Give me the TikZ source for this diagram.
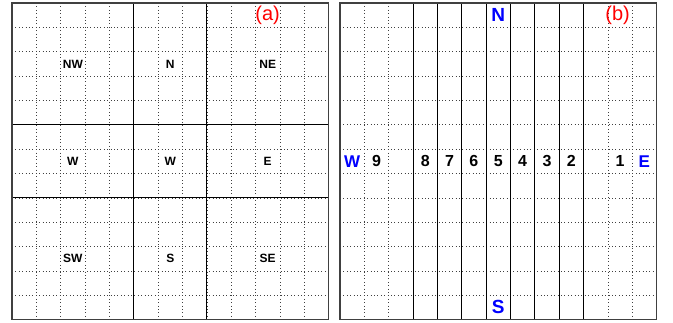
\documentclass[tikz,border=0pt]{standalone}
\usepackage{fontspec}
\setmainfont{Liberation Sans}
\usepackage{tikz}
\usetikzlibrary{positioning,calc}
\tikzstyle{cellgrid} = [black!75, line width=0.6pt, dash pattern=on 0.8pt off 2.6pt]
\tikzstyle{blockline} = [black, line width=0.8pt]
\tikzstyle{frame} = [black!75, line width=1.2pt]
\tikzstyle{region} = [inner sep=0pt, font=\fontsize{12}{12}\selectfont\bfseries]
\tikzstyle{strip} = [inner sep=0pt, font=\fontsize{16}{16}\selectfont\bfseries]
\tikzstyle{compass} = [inner sep=0pt, text=blue, font=\fontsize{17}{17}\selectfont\bfseries]
\tikzstyle{panel} = [inner sep=0pt, text=red, font=\fontsize{20}{20}\selectfont]

\begin{document}
\begin{tikzpicture}[x=24.35pt, y=-24.35pt]
    \useasboundingbox (-12pt,3pt) rectangle (661pt,-319pt);
    % Panel (a)
    \foreach \i in {1,...,12} {
        \draw [cellgrid] (\i,0) -- (\i,13);
        \draw [cellgrid] (0,\i) -- (13,\i);
    }
    \foreach \i in {5,8} {
        \draw [blockline] (\i,0) -- (\i,13);
        \draw [blockline] (0,\i) -- (13,\i);
    }
    \draw [frame] (0,0) rectangle (13,13);
    \node [region] (nw) at (2.5,2.5) {NW};
    \node [region] (n) at (6.5,2.5) {N};
    \node [region] (ne) at (10.5,2.5) {NE};
    \node [region] (w) at (2.5,6.5) {W};
    \node [region] (c) at (6.5,6.5) {W};
    \node [region] (e) at (10.5,6.5) {E};
    \node [region] (sw) at (2.5,10.5) {SW};
    \node [region] (s) at (6.5,10.5) {S};
    \node [region] (se) at (10.5,10.5) {SE};
    \node [panel] (pa) at (10.5,0.5) {(a)};

    % Panel (b)
    \begin{scope}[xshift=328pt]
        \foreach \i in {1,...,12}
            \draw [cellgrid] (0,\i) -- (13,\i);
        \foreach \i in {1,2,11,12}
            \draw [cellgrid] (\i,0) -- (\i,13);
        \foreach \i in {3,...,10}
            \draw [blockline] (\i,0) -- (\i,13);
        \draw [frame] (0,0) rectangle (13,13);
        \foreach \k/\x in {9/1.5, 8/3.5, 7/4.5, 6/5.5, 5/6.5, 4/7.5, 3/8.5, 2/9.5, 1/11.5}
            \node [strip] (num\k) at (\x,6.5) {\k};
        \node [compass] (west) at (0.5,6.5) {W};
        \node [compass] (east) at (12.5,6.5) {E};
        \node [compass, font=\fontsize{19}{19}\selectfont\bfseries] (north) at (6.5,0.5) {N};
        \node [compass, font=\fontsize{19}{19}\selectfont\bfseries] (south) at (6.5,12.5) {S};
        \node [panel] (pb) at (11.4,0.5) {(b)};
    \end{scope}
\end{tikzpicture}
\end{document}
